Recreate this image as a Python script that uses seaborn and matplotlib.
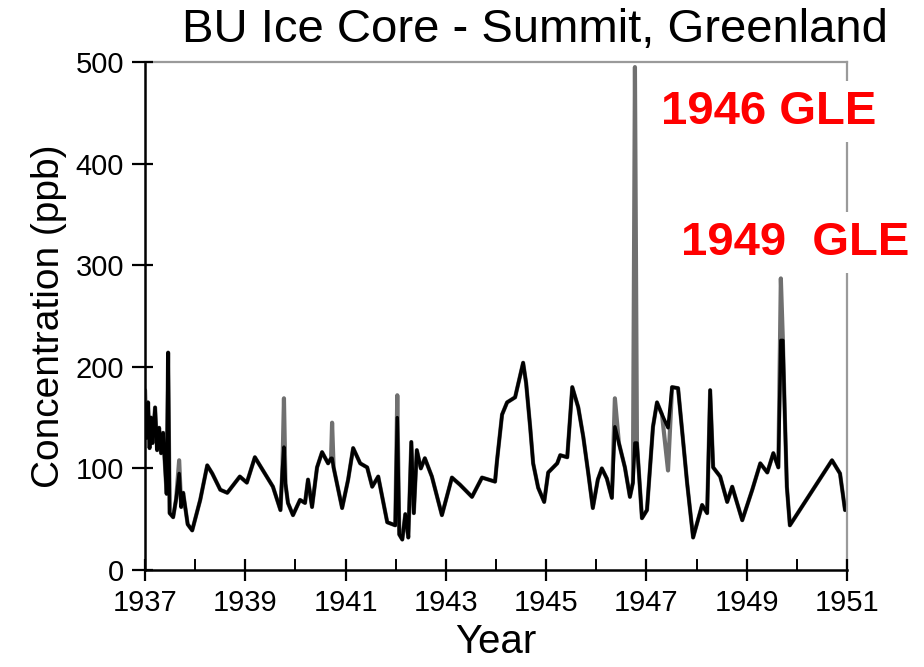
import matplotlib
matplotlib.use("Agg")
import matplotlib.pyplot as plt
import matplotlib.transforms as mtransforms
import seaborn as sns
import pandas as pd

# Sample dates (decimal years) of the Summit, Greenland core record
years = [
    1937.00, 1937.03, 1937.06, 1937.09, 1937.12, 1937.15, 1937.20, 1937.24, 1937.28, 1937.32,
    1937.36, 1937.40, 1937.43, 1937.46, 1937.49, 1937.56, 1937.62, 1937.68, 1937.72, 1937.76,
    1937.85, 1937.94, 1938.10, 1938.24, 1938.34, 1938.50, 1938.64, 1938.89, 1939.03, 1939.19,
    1939.55, 1939.70, 1939.74, 1939.77, 1939.80, 1939.85, 1939.95, 1940.09, 1940.19, 1940.25,
    1940.33, 1940.43, 1940.53, 1940.65, 1940.71, 1940.73, 1940.76, 1940.93, 1941.05, 1941.15,
    1941.29, 1941.43, 1941.53, 1941.65, 1941.83, 1941.99, 1942.03, 1942.07, 1942.13, 1942.19,
    1942.25, 1942.31, 1942.36, 1942.42, 1942.50, 1942.58, 1942.72, 1942.92, 1943.12, 1943.28,
    1943.52, 1943.72, 1943.98, 1944.02, 1944.12, 1944.22, 1944.38, 1944.54, 1944.60, 1944.68,
    1944.74, 1944.84, 1944.96, 1945.04, 1945.22, 1945.28, 1945.42, 1945.52, 1945.64, 1945.74,
    1945.84, 1945.93, 1946.03, 1946.11, 1946.21, 1946.31, 1946.37, 1946.45, 1946.57, 1946.67,
    1946.73, 1946.77, 1946.81, 1946.91, 1947.01, 1947.13, 1947.21, 1947.31, 1947.43, 1947.51,
    1947.63, 1947.71, 1947.81, 1947.93, 1948.11, 1948.21, 1948.27, 1948.33, 1948.47, 1948.61,
    1948.71, 1948.91, 1949.11, 1949.27, 1949.41, 1949.53, 1949.63, 1949.68, 1949.72, 1949.76,
    1949.80, 1949.86, 1950.70, 1950.86, 1950.96,
]

# Full-resolution record (ppb), including the single-sample peaks
conc_full = [
    177, 130, 165, 120, 150, 125, 160, 118, 140, 115,
    135, 100, 75, 214, 56, 52, 70, 108, 62, 76,
    45, 39, 69, 103, 95, 79, 76, 92, 86, 111,
    82, 59, 100, 169, 85, 66, 54, 69, 66, 89,
    62, 101, 116, 105, 110, 145, 101, 61, 89, 120,
    105, 101, 82, 92, 47, 44, 172, 35, 30, 55,
    32, 126, 56, 118, 100, 110, 92, 54, 91, 84,
    72, 91, 87, 108, 153, 165, 170, 204, 184, 141,
    105, 81, 67, 96, 105, 113, 111, 180, 160, 131,
    95, 61, 89, 100, 90, 71, 169, 125, 101, 72,
    86, 495, 125, 51, 59, 141, 165, 153, 98, 180,
    179, 138, 86, 32, 64, 56, 177, 101, 92, 67,
    82, 49, 79, 105, 96, 115, 101, 287, 226, 151,
    82, 44, 108, 95, 59,
]

# Replicate measurement (ppb)
conc_repl = [
    140, 130, 165, 120, 150, 125, 160, 118, 140, 115,
    135, 100, 75, 214, 56, 52, 70, 95, 62, 76,
    45, 39, 69, 103, 95, 79, 76, 92, 86, 111,
    82, 59, 100, 121, 85, 66, 54, 69, 66, 89,
    62, 101, 116, 105, 110, 110, 101, 61, 89, 120,
    105, 101, 82, 92, 47, 44, 150, 35, 30, 55,
    32, 126, 56, 118, 100, 110, 92, 54, 91, 84,
    72, 91, 87, 108, 153, 165, 170, 204, 184, 141,
    105, 81, 67, 96, 105, 113, 111, 180, 160, 131,
    95, 61, 89, 100, 90, 71, 141, 125, 101, 72,
    86, 125, 125, 51, 59, 141, 165, 153, 140, 180,
    179, 138, 86, 32, 64, 56, 177, 101, 92, 67,
    82, 49, 79, 105, 96, 115, 101, 226, 226, 151,
    82, 44, 108, 95, 59,
]

year_ticks = [1937, 1939, 1941, 1943, 1945, 1947, 1949, 1951]
year_minor = [1938, 1940, 1942, 1944, 1946, 1948, 1950]
conc_ticks = [0, 100, 200, 300, 400, 500]

title_text = "BU Ice Core - Summit, Greenland"
event_labels = ["1946 GLE", "1949  GLE"]

df = pd.DataFrame({"year": years, "full": conc_full, "repl": conc_repl})

sns.set_theme(style="ticks")
plt.rcParams["font.family"] = ["Liberation Sans", "DejaVu Sans"]
plt.rcParams["text.color"] = "black"
plt.rcParams["axes.labelcolor"] = "black"

fig = plt.figure(figsize=(9.24, 6.67), dpi=100)
ax = fig.add_axes([0.157, 0.1454, 0.7597, 0.7616])

sns.lineplot(data=df, x="year", y="full", ax=ax, color="#707070", lw=3.0,
             estimator=None, sort=False)
sns.lineplot(data=df, x="year", y="repl", ax=ax, color="black", lw=2.5,
             estimator=None, sort=False)

ax.set_xlim(1937, 1951)
ax.set_ylim(0, 500)
ax.set_xticks(year_ticks)
ax.set_xticks(year_minor, minor=True)
ax.set_yticks(conc_ticks)
ax.set_xticklabels([str(y) for y in year_ticks])
ax.set_yticklabels([str(v) for v in conc_ticks])

# Tick labels from the axis; tick marks drawn as short segments below
ax.tick_params(axis="both", which="both", length=0)
ax.tick_params(axis="x", which="major", labelsize=21, labelcolor="black", pad=14)
ax.tick_params(axis="y", which="major", labelsize=21, labelcolor="black", pad=15)

# Tick marks: x ticks in axes-fraction height, y ticks in axes-fraction width
xtrans = mtransforms.blended_transform_factory(ax.transData, ax.transAxes)
ytrans = mtransforms.blended_transform_factory(ax.transAxes, ax.transData)
for yr in year_ticks:
    ax.plot([yr, yr], [-0.022, 0.022], transform=xtrans, color="black", lw=1.6,
            clip_on=False, solid_capstyle="butt", zorder=6)
for yr in year_minor:
    ax.plot([yr, yr], [0.0, 0.022], transform=xtrans, color="black", lw=1.4,
            clip_on=False, solid_capstyle="butt", zorder=6)
for v in conc_ticks:
    ax.plot([-0.018, 0.012], [v, v], transform=ytrans, color="black", lw=1.6,
            clip_on=False, solid_capstyle="butt", zorder=6)

for side in ("left", "bottom"):
    ax.spines[side].set_color("black")
    ax.spines[side].set_linewidth(1.8)
for side in ("top", "right"):
    ax.spines[side].set_visible(True)
    ax.spines[side].set_color("#9a9a9a")
    ax.spines[side].set_linewidth(1.6)

ax.set_xlabel("Year", fontsize=29, labelpad=4)
ax.set_ylabel("Concentration (ppb)", fontsize=28, labelpad=6)

fig.text(0.579, 0.955, title_text, ha="center", va="center", fontsize=34,
         color="black")

box = dict(facecolor="white", edgecolor="none", pad=6)
ax.text(1949.44, 451, event_labels[0], ha="center", va="center", fontsize=34,
        fontweight="bold", color="#ff0000", bbox=box, zorder=7, clip_on=False)
ax.text(1949.96, 322, event_labels[1], ha="center", va="center", fontsize=34,
        fontweight="bold", color="#ff0000", bbox=box, zorder=7, clip_on=False)

fig.savefig("out.png", dpi=100, facecolor="white")
